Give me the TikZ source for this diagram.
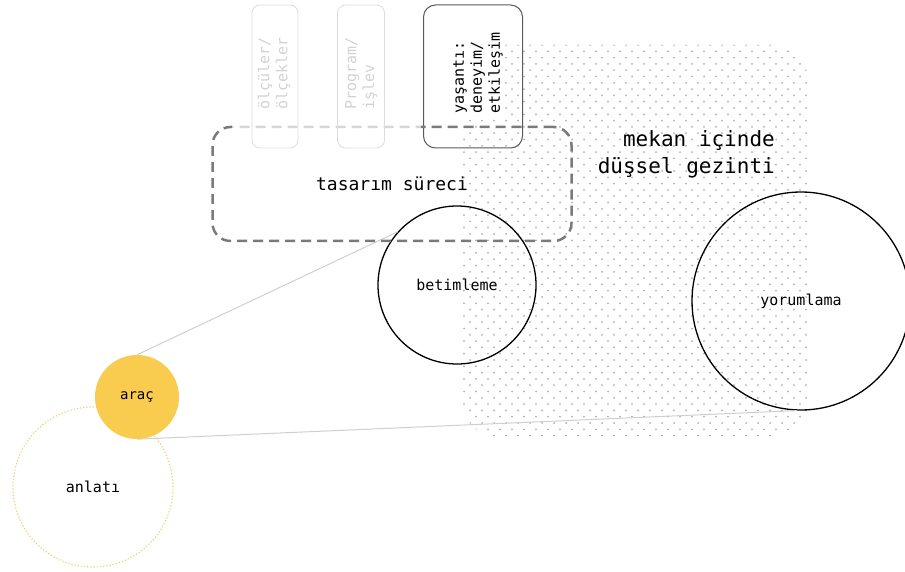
\documentclass[tikz,border=0pt]{standalone}
\usepackage{fontspec}
\newfontfamily\dvmono{DejaVu Sans Mono}
\usepackage{xcolor}
\usepackage{tikz}
\definecolor{aracyellow}{HTML}{F9CB4F}
\definecolor{paleyellow}{HTML}{EFCF73}
\definecolor{fadegray}{HTML}{DCDCDC}
\definecolor{fadetext}{HTML}{D2D2D2}
\definecolor{dashgray}{HTML}{7A7A7A}
\definecolor{conngray}{HTML}{CFCFCF}
\definecolor{dotgray}{HTML}{AEAEAE}
\tikzset{
  monotxt/.style 2 args={font={\dvmono\fontsize{#1}{#2}\selectfont}},
  ringnode/.style={circle, draw=black, line width=1.3pt, inner sep=0pt, minimum size=#1, monotxt={15}{18}},
  fadebox/.style={draw=fadegray, line width=0.8pt, rounded corners=8pt, minimum width=46pt, minimum height=143pt},
  vtxt/.style={rotate=90, anchor=west, align=left, inner sep=1pt, monotxt={15}{18}},
  conn/.style={draw=conngray, line width=1pt}
}

\begin{document}
\begin{tikzpicture}[x=1pt, y=-1pt]
\useasboundingbox (0,0) rectangle (905,572);
% dotted field
\begin{scope}
\clip[rounded corners=35pt] (462,45) rectangle (808,436);
\foreach \r in {0,...,62}{
  \pgfmathsetmacro{\dy}{45+6.3*\r}
  \pgfmathsetmacro{\dx}{mod(\r,2)*6}
  \foreach \c in {0,...,29}{
    \fill[dotgray] ({458+\dx+12*\c},\dy) circle[radius=1];
  }
}
\end{scope}

% circles
\node[ringnode=158pt] (betim) at (457,285) {betimleme};
\node[ringnode=218pt] (yorum) at (801,301) {yorumlama};
\node[ringnode=160pt, draw=paleyellow, line width=1.2pt, dotted] (anlati) at (93,487) {anlatı};
\node[circle, inner sep=0pt, minimum size=84pt] (arac) at (137,397) {};
\draw[conn] (arac.north) -- (betim.138);
\draw[conn] (arac.south) -- (yorum.268);
\node[circle, fill=aracyellow, inner sep=0pt, minimum size=84pt, monotxt={14}{17}] at (arac) {araç};

% top boxes
\node[draw=black!65, line width=1pt, rounded corners=12pt, minimum width=99pt, minimum height=143pt] (yasanti) at (473,76.5) {};
\node[vtxt, fill=white] (yasanti-t) at (478,115) {yaşantı:\\deneyim/\\etkileşim};

% design process
\node[draw=dashgray, line width=2.5pt, dash pattern=on 10pt off 6pt, rounded corners=18pt, minimum width=359pt, minimum height=114pt, monotxt={18}{22}] (surec) at (392,184) {tasarım süreci};
\fill[white, opacity=0.7] (232,118) rectangle (421,136);

\node[fadebox] (olcu) at (275,76.5) {};
\node[vtxt, text=fadetext] (olcu-t) at (274,111) {ölçüler/\\ölçekler};
\node[fadebox, minimum width=47pt] (prog) at (361,76.5) {};
\node[vtxt, text=fadetext] (prog-t) at (361,111) {Program/\\işlev};

% imagination label
\node[align=right, anchor=east, monotxt={21}{27}, inner sep=0pt] (gezinti) at (775,154) {mekan içinde\\düşsel gezinti};
\end{tikzpicture}
\end{document}
